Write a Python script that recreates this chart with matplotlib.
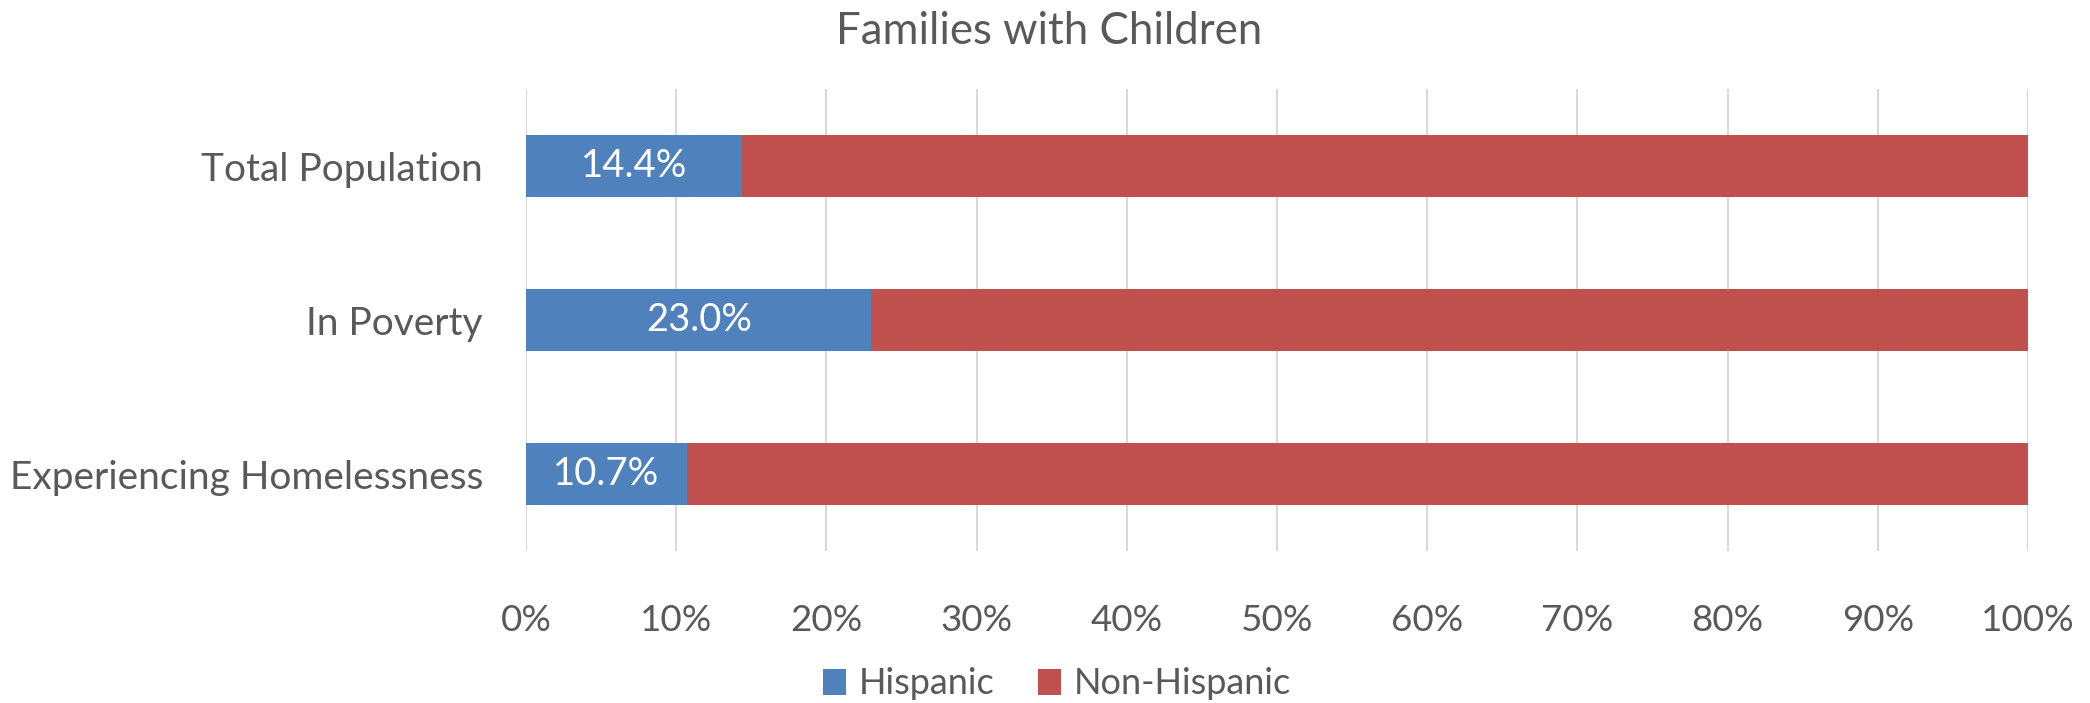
import matplotlib
matplotlib.use("Agg")
import matplotlib.pyplot as plt
from matplotlib.ticker import PercentFormatter

categories = ["Total Population", "In Poverty", "Experiencing Homelessness"]
hispanic = [14.4, 23.0, 10.7]
non_hispanic = [85.6, 77.0, 89.3]
xticks = [0, 10, 20, 30, 40, 50, 60, 70, 80, 90, 100]

plt.rcParams['font.family'] = ['Lato', 'DejaVu Sans']
TXT = "#595959"
BLUE = "#4F81BD"
RED = "#C0504D"

fig = plt.figure(figsize=(20.90, 7.03), dpi=100)
ax = fig.add_axes([526/2090, 1 - 551/703, (2028-526)/2090, (551-89)/703])

ypos = list(range(len(categories)))
b1 = ax.barh(ypos, hispanic, height=0.40, color=BLUE, label="Hispanic", zorder=3)
b2 = ax.barh(ypos, non_hispanic, left=hispanic, height=0.40, color=RED, label="Non-Hispanic", zorder=3)

for bar, v in zip(b1, hispanic):
    ax.text(bar.get_x() + bar.get_width()/2, bar.get_y() + bar.get_height()/2,
            f"{v:.1f}%", ha="center", va="center", color="white", fontsize=27.5, zorder=4)

ax.set_xlim(0, 100)
ax.set_ylim(len(categories) - 0.5, -0.5)
ax.set_yticks(ypos)
ax.set_yticklabels(categories, fontsize=28, color=TXT)
ax.set_xticks(xticks)
ax.xaxis.set_major_formatter(PercentFormatter(decimals=0))
ax.tick_params(axis="x", labelsize=26.5, colors=TXT, length=0, pad=38)
ax.tick_params(axis="y", length=0, pad=31)
ax.grid(axis="x", color="#D9D9D9", linewidth=1.5, zorder=0)
for s in ax.spines.values():
    s.set_visible(False)

fig.text(1049/2090, 1 - 32/703, "Families with Children", ha="center", va="center",
         fontsize=31.5, color=TXT)

leg = fig.legend(handles=[b1, b2], labels=["Hispanic", "Non-Hispanic"], loc="center",
                 bbox_to_anchor=(1057/2090, 1 - 684/703), ncol=2, frameon=False,
                 fontsize=26, handlelength=0.65, handleheight=0.7, columnspacing=1.2,
                 handletextpad=0.35)
for t in leg.get_texts():
    t.set_color(TXT)

fig.savefig("out.png", dpi=100)
